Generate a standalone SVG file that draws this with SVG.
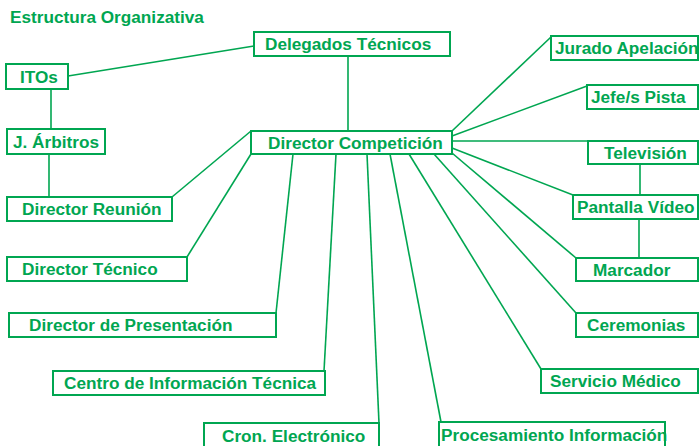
<svg xmlns="http://www.w3.org/2000/svg" width="699" height="446" viewBox="0 0 699 446">
<style>
.box{fill:#fff;stroke:#00a651;stroke-width:2}
.t{font-family:"Liberation Sans",Arial,sans-serif;font-weight:bold;font-size:17.2px;fill:#00a651}
.c{fill:none;stroke:#00a651;stroke-width:1.6}
</style>
<rect width="699" height="446" fill="#fff"/>
<text class="t" x="10" y="22.5">Estructura Organizativa</text>
<g id="connectors">
<line class="c" x1="68" y1="76" x2="254" y2="46"/>
<line class="c" x1="51" y1="89" x2="51" y2="129"/>
<line class="c" x1="49" y1="154" x2="49" y2="197"/>
<line class="c" x1="348" y1="56" x2="348" y2="131"/>
<line class="c" x1="172" y1="197" x2="251" y2="131"/>
<line class="c" x1="251" y1="154" x2="187" y2="257"/>
<line class="c" x1="293" y1="154" x2="276" y2="313"/>
<line class="c" x1="336" y1="154" x2="324" y2="371"/>
<line class="c" x1="367" y1="154" x2="379" y2="423"/>
<line class="c" x1="390" y1="154" x2="441" y2="422"/>
<line class="c" x1="409" y1="154" x2="541" y2="369"/>
<line class="c" x1="434" y1="154" x2="576" y2="313"/>
<line class="c" x1="452" y1="153" x2="576" y2="258"/>
<line class="c" x1="452" y1="148" x2="573" y2="195"/>
<line class="c" x1="452" y1="141" x2="588" y2="141"/>
<line class="c" x1="452" y1="136" x2="587" y2="86"/>
<line class="c" x1="452" y1="131" x2="551" y2="37"/>
<line class="c" x1="640" y1="164" x2="640" y2="195"/>
<line class="c" x1="639" y1="219" x2="639" y2="258"/>
</g>
<g id="itos"><rect class="box" x="6" y="64" width="62" height="25"/><text class="t" x="20" y="82.5">ITOs</text></g>
<g id="arbitros"><rect class="box" x="7" y="129" width="98" height="25"/><text class="t" x="13" y="147.5">J. Árbitros</text></g>
<g id="delegados"><rect class="box" x="254" y="32" width="196" height="24"/><text class="t" x="265" y="50">Delegados Técnicos</text></g>
<g id="director-competicion"><rect class="box" x="251" y="131" width="201" height="23"/><text class="t" x="268" y="148.5">Director Competición</text></g>
<g id="director-reunion"><rect class="box" x="7" y="197" width="165" height="24"/><text class="t" x="22" y="215">Director Reunión</text></g>
<g id="director-tecnico"><rect class="box" x="7" y="257" width="180" height="24"/><text class="t" x="22" y="275">Director Técnico</text></g>
<g id="director-presentacion"><rect class="box" x="9" y="313" width="267" height="24"/><text class="t" x="29" y="331">Director de Presentación</text></g>
<g id="centro-informacion"><rect class="box" x="53" y="371" width="272" height="24"/><text class="t" x="64" y="389">Centro de Información Técnica</text></g>
<g id="cron"><rect class="box" x="204" y="423" width="175" height="25"/><text class="t" x="222" y="441.5">Cron. Electrónico</text></g>
<g id="procesamiento"><rect class="box" x="439" y="422" width="226" height="26"/><text class="t" x="441" y="440.5">Procesamiento Información</text></g>
<g id="servicio-medico"><rect class="box" x="541" y="369" width="157" height="24"/><text class="t" x="550" y="387">Servicio Médico</text></g>
<g id="ceremonias"><rect class="box" x="576" y="313" width="122" height="24"/><text class="t" x="587" y="331">Ceremonias</text></g>
<g id="marcador"><rect class="box" x="576" y="258" width="122" height="23"/><text class="t" x="593" y="275.5">Marcador</text></g>
<g id="pantalla-video"><rect class="box" x="573" y="195" width="125" height="24"/><text class="t" x="577" y="213">Pantalla Vídeo</text></g>
<g id="television"><rect class="box" x="588" y="141" width="110" height="23"/><text class="t" x="604" y="158.5">Televisión</text></g>
<g id="jefes-pista"><rect class="box" x="587" y="85" width="111" height="24"/><text class="t" x="591" y="103">Jefe/s Pista</text></g>
<g id="jurado"><rect class="box" x="551" y="36" width="147" height="24"/><text class="t" x="555" y="54">Jurado Apelación</text></g>
</svg>
